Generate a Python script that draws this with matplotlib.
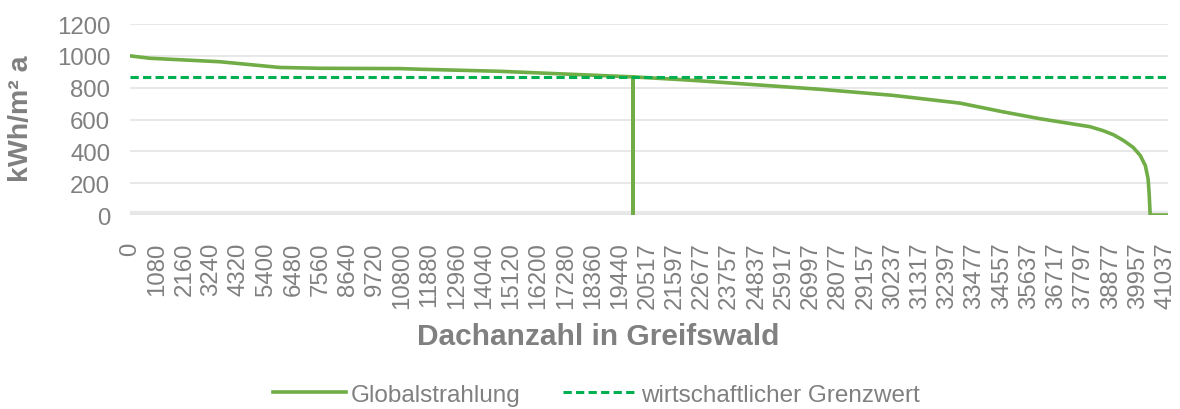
import matplotlib.pyplot as plt

plt.rcParams['font.family'] = ['Liberation Sans', 'DejaVu Sans']

# Globalstrahlung je Dach, sortiert
dach_nr = [0, 790, 3570, 5950, 7530, 10700, 11500, 14670, 19944, 19944, 19944,
           21810, 22600, 27360, 30240, 32910, 34560, 36080, 38060, 38580, 38980,
           39370, 39770, 40050, 40250, 40360, 40400, 40443, 41157]
strahlung = [1000, 985, 963, 927, 922, 920, 916, 903, 868, 0, 868,
             851, 843, 790, 752, 703, 650, 605, 555, 530, 505,
             470, 425, 374, 311, 227, 140, 0, 0]
grenzwert = 868

tick_werte = [0, 1080, 2160, 3240, 4320, 5400, 6480, 7560, 8640, 9720, 10800,
              11880, 12960, 14040, 15120, 16200, 17280, 18360, 19440, 20517,
              21597, 22677, 23757, 24837, 25917, 26997, 28077, 29157, 30237,
              31317, 32397, 33477, 34557, 35637, 36717, 37797, 38877, 39957,
              41037]

grau = '#808080'

fig = plt.figure(figsize=(11.8, 4.1), dpi=100)
ax = fig.add_axes([0.110, 0.473, 0.880, 0.466])

ax.plot(dach_nr, strahlung, color='#70AD47', lw=2.6, label='Globalstrahlung',
        solid_joinstyle='round', zorder=3)
ax.axhline(grenzwert, color='#00B050', lw=2.2, ls=(0, (2.7, 1.4)),
           label='wirtschaftlicher Grenzwert', zorder=4)

ax.set_xlim(0, 41157)
ax.set_ylim(0, 1200)
ax.set_yticks(range(0, 1201, 200))
ax.set_xticks(tick_werte)
ax.set_xticklabels([str(t) for t in tick_werte], rotation=90)

ax.grid(axis='y', color='#e4e4e4', lw=1.2)
ax.axhline(0, color='#e8e8e8', lw=6, zorder=1)
for s in ax.spines.values():
    s.set_visible(False)
ax.tick_params(length=0, colors=grau, labelsize=17.3)
ax.tick_params(axis='y', pad=14)
ax.tick_params(axis='x', pad=19)

ax.set_ylabel('kWh/m² a', color=grau, fontsize=20.5, fontweight='bold')
ax.yaxis.set_label_coords(-0.092, 0.51)
ax.set_xlabel('Dachanzahl in Greifswald', color=grau, fontsize=21.5,
              fontweight='bold')
ax.xaxis.set_label_coords(0.451, -0.56)

leg = fig.legend(loc='lower center', bbox_to_anchor=(0.5055, -0.045), ncol=2,
                 frameon=False, fontsize=17.5, handlelength=3.0, columnspacing=1.75,
                 handletextpad=0.2)
for t in leg.get_texts():
    t.set_color(grau)

fig.savefig('out.png', dpi=100)
